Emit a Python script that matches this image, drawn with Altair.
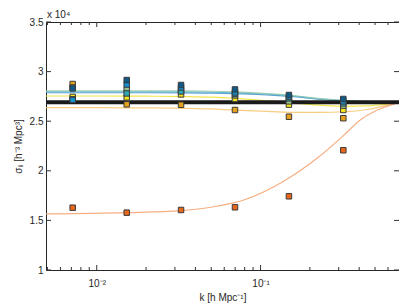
import altair as alt
import pandas as pd

# ---------------- data ----------------
k_pts = [0.00713, 0.01524, 0.0327, 0.0698, 0.149, 0.320]
pts_darkblue = [2.83, 2.915, 2.865, 2.82, 2.764, 2.724]
pts_blue = [2.714, 2.87, 2.84, 2.79, 2.745, 2.70]
pts_teal = [2.72, 2.78, 2.80, 2.775, 2.73, 2.68]
pts_green = [2.84, 2.82, 2.81, 2.76, 2.70, 2.657]
pts_yellow = [2.745, 2.74, 2.77, 2.724, 2.667, 2.613]
pts_amber = [2.875, 2.67, 2.666, 2.613, 2.545, 2.53]
pts_orange = [1.628, 1.578, 1.605, 1.632, 1.743, 2.207]

line_k = [0.0049, 0.01, 0.02, 0.035, 0.05, 0.07, 0.11, 0.167, 0.24, 0.32, 0.45, 0.55, 0.70]
line_blue = [2.787, 2.787, 2.787, 2.786, 2.783, 2.778, 2.764, 2.745, 2.717, 2.705, 2.694, 2.691, 2.69]
line_cyan = [2.796, 2.796, 2.796, 2.795, 2.792, 2.786, 2.772, 2.75, 2.722, 2.708, 2.696, 2.692, 2.69]
line_green = [2.806, 2.806, 2.806, 2.805, 2.802, 2.795, 2.778, 2.754, 2.726, 2.71, 2.697, 2.692, 2.69]
line_yellow = [2.754, 2.754, 2.752, 2.748, 2.742, 2.73, 2.705, 2.68, 2.66, 2.65, 2.655, 2.668, 2.688]
line_amber = [2.636, 2.636, 2.634, 2.630, 2.624, 2.612, 2.600, 2.588, 2.588, 2.595, 2.618, 2.65, 2.686]

orange_k = [0.0049, 0.0152, 0.0327, 0.055, 0.079, 0.14, 0.221, 0.323, 0.404, 0.512, 0.614, 0.70]
orange_v = [1.565, 1.578, 1.598, 1.645, 1.706, 1.90, 2.126, 2.36, 2.51, 2.61, 2.66, 2.686]

ref_k = [0.0049, 0.70]
ref_v = [2.69, 2.69]

x_major = [0.01, 0.1]
x_minor = [0.005, 0.006, 0.007, 0.008, 0.009,
           0.02, 0.03, 0.04, 0.05, 0.06, 0.07, 0.08, 0.09,
           0.2, 0.3, 0.4, 0.5, 0.6]
y_ticks = [1.0, 1.5, 2.0, 2.5, 3.0, 3.5]

# ---------------- styling ----------------
W, H = 353, 248
FONT = "Liberation Sans"
TXT = "#262626"

xs = alt.Scale(type="log", domain=[0.0049, 0.70])
ys = alt.Scale(domain=[1.0, 3.5])

xaxis = alt.Axis(values=x_major, domain=False, ticks=False, grid=False,
                 labelExpr="datum.value < 0.05 ? '10⁻²' : '10⁻¹'",
                 labelFont=FONT, labelFontSize=10, labelColor=TXT, labelPadding=8,
                 title="k [h Mpc⁻¹]", titleFont=FONT, titleFontSize=10,
                 titleFontWeight="normal", titleColor=TXT, titlePadding=4)
yaxis = alt.Axis(values=y_ticks, domain=False, ticks=False, grid=False, format=".1~f",
                 labelFont=FONT, labelFontSize=10, labelColor=TXT, labelPadding=3,
                 title="σᵢᵢ [h⁻³ Mpc³]", titleFont=FONT, titleFontSize=10,
                 titleFontWeight="normal", titleColor=TXT, titlePadding=6)

X = alt.X("k:Q", scale=xs, axis=xaxis)
Y = alt.Y("v:Q", scale=ys, axis=yaxis)

line_series = [("blue", line_k, line_blue, "#3d8fc6"),
               ("cyan", line_k, line_cyan, "#5ab4d6"),
               ("green", line_k, line_green, "#8fc5a8"),
               ("yellow", line_k, line_yellow, "#f2e030"),
               ("amber", line_k, line_amber, "#f7c46a"),
               ("orange", orange_k, orange_v, "#f4a06c")]
rows = []
for name, kk, vv, _ in line_series:
    for a, b in zip(kk, vv):
        rows.append({"k": a, "v": b, "s": name})
df_lines = pd.DataFrame(rows)

pt_series = [("amber", pts_amber, "#e6a11c"),
             ("orange", pts_orange, "#e8671b"),
             ("yellow", pts_yellow, "#f4e61a"),
             ("green", pts_green, "#9dc48c"),
             ("teal", pts_teal, "#2fa7b0"),
             ("blue", pts_blue, "#1590d0"),
             ("darkblue", pts_darkblue, "#0f5a87")]
rows = []
for i, (name, vv, _) in enumerate(pt_series):
    for a, b in zip(k_pts, vv):
        rows.append({"k": a, "v": b, "s": name, "o": i})
df_pts = pd.DataFrame(rows)

df_ref = pd.DataFrame({"k": ref_k, "v": ref_v})
df_xmaj = pd.DataFrame({"k": x_major})
df_xmin = pd.DataFrame({"k": x_minor})
df_y = pd.DataFrame({"v": y_ticks})

lines = alt.Chart(df_lines).mark_line(strokeWidth=1.2, opacity=0.85, interpolate="monotone").encode(
    x=X, y=Y,
    color=alt.Color("s:N", scale=alt.Scale(domain=[s[0] for s in line_series],
                                           range=[s[3] for s in line_series]), legend=None),
    detail="s:N",
)

ref = alt.Chart(df_ref).mark_line(strokeWidth=4, color="#1a1a1a").encode(x=X, y=Y)

pts = alt.Chart(df_pts).mark_point(shape="square", filled=True, size=30, stroke="#3a3a3a",
                                   strokeWidth=1, opacity=1).encode(
    x=X, y=Y,
    fill=alt.Color("s:N", scale=alt.Scale(domain=[s[0] for s in pt_series],
                                          range=[s[2] for s in pt_series]), legend=None),
    order="o:Q",
)

TICK = "#333333"
xb_maj = alt.Chart(df_xmaj).mark_rule(color=TICK, strokeWidth=1).encode(
    x=X, y=alt.value(H), y2=alt.value(H - 5))
xt_maj = alt.Chart(df_xmaj).mark_rule(color=TICK, strokeWidth=1).encode(
    x=X, y=alt.value(0), y2=alt.value(5))
xb_min = alt.Chart(df_xmin).mark_rule(color=TICK, strokeWidth=1).encode(
    x=X, y=alt.value(H), y2=alt.value(H - 3))
xt_min = alt.Chart(df_xmin).mark_rule(color=TICK, strokeWidth=1).encode(
    x=X, y=alt.value(0), y2=alt.value(3))
yl = alt.Chart(df_y).mark_rule(color=TICK, strokeWidth=1).encode(
    y=Y, x=alt.value(0), x2=alt.value(5))
yr = alt.Chart(df_y).mark_rule(color=TICK, strokeWidth=1).encode(
    y=Y, x=alt.value(W), x2=alt.value(W - 5))

mult = alt.Chart(pd.DataFrame({"t": ["x 10⁴"]})).mark_text(
    align="left", baseline="middle", font=FONT, fontSize=10, color=TXT).encode(
    text="t:N", x=alt.value(1), y=alt.value(-7))

chart = alt.layer(lines, ref, pts, xb_maj, xt_maj, xb_min, xt_min, yl, yr, mult).properties(
    width=W, height=H,
    padding={"left": 38, "top": 14, "right": 0, "bottom": 35},
    autosize=alt.AutoSizeParams(type="none"),
    background="white",
).configure_view(stroke="#262626", strokeWidth=1)

chart.save("out.html", embed_options={"renderer": "svg", "actions": False})
